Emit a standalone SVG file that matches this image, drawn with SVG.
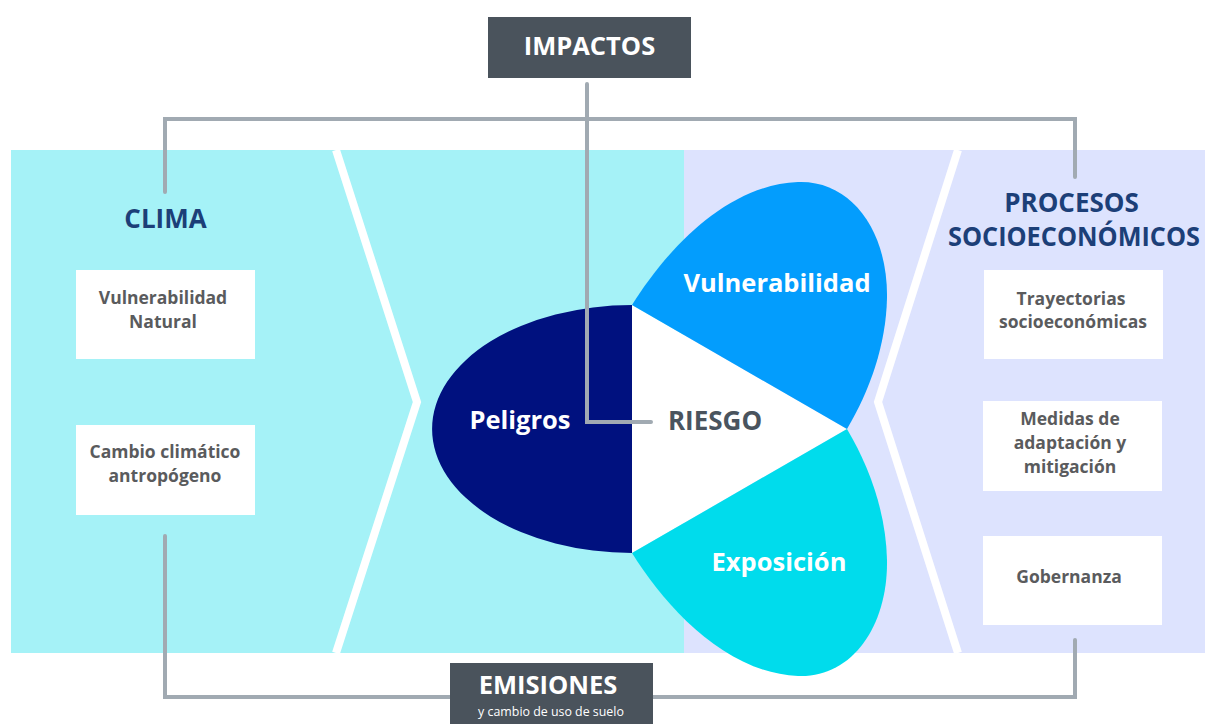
<svg xmlns="http://www.w3.org/2000/svg" width="1205" height="724" viewBox="0 0 1205 724">
<style>
.t{font-family:"Open Sans","Liberation Sans",sans-serif;font-weight:700;text-anchor:middle}
.box{fill:#ffffff}
.bt{font-size:17.5px;fill:#5a5b5d}
.title{font-size:26px;fill:#1c3f78}
.petal{font-size:25.5px;fill:#ffffff}
.dark{fill:#4a535c}
.conn{fill:none;stroke:#a1aab2;stroke-width:4;stroke-linecap:round;stroke-linejoin:miter}
.chev{fill:none;stroke:#ffffff;stroke-width:8}
</style>
<rect width="1205" height="724" fill="#ffffff"/>
<g id="background">
<rect x="11" y="150" width="673" height="503" fill="#a5f2f7"/>
<rect x="684" y="150" width="521" height="503" fill="#dde3fe"/>
<polyline class="chev" points="336,150 417,402 336,653"/>
<polyline class="chev" points="958,150 878,402 958,653"/>
</g>
<g id="connectors">
<polyline class="conn" points="165,192 165,119 1075,119 1075,177"/>
<polyline class="conn" points="165,536 165,697 1075,697 1075,640"/>
</g>
<g id="peligros">
<path d="M632,305 A200,124 0 0 0 632,553 Z" fill="#00117f"/>
<text class="t petal" x="520" y="429">Peligros</text>
</g>
<g id="riesgo">
<polygon points="632,305 632,553 847,429" fill="#ffffff"/>
<text class="t" x="715" y="430" font-size="26" fill="#4a545e">RIESGO</text>
</g>
<g id="vulnerabilidad">
<path d="M632,305 C665,252 725,185 798,182 C852,180 888,232 887,298 C886,345 870,390 847,429 Z" fill="#039dfd"/>
<text class="t petal" x="777" y="292">Vulnerabilidad</text>
</g>
<g id="exposicion">
<path d="M632,553 C665,606 725,673 798,676 C852,678 888,626 887,560 C886,513 870,468 847,429 Z" fill="#00dcec"/>
<text class="t petal" x="779" y="571">Exposición</text>
</g>
<g id="impactos-link">
<polyline class="conn" points="587,84 587,422 651,422"/>
</g>
<g id="impactos">
<rect x="488" y="17" width="203" height="61" fill="#4a535c"/>
<text class="t" x="589.5" y="55" font-size="25.5" fill="#ffffff">IMPACTOS</text>
</g>
<g id="emisiones">
<rect x="450" y="663" width="203" height="61" fill="#4a535c"/>
<text class="t" x="548" y="694" font-size="25.5" fill="#ffffff">EMISIONES</text>
<text x="551" y="716" font-size="12.4" fill="#ffffff" font-family="Open Sans, Liberation Sans, sans-serif" text-anchor="middle">y cambio de uso de suelo</text>
</g>
<g id="clima">
<text class="t title" x="165.5" y="228">CLIMA</text>
</g>
<g id="vulnerabilidad-natural">
<rect class="box" x="76" y="270" width="179" height="89"/>
<text class="t bt" x="163" y="304">Vulnerabilidad</text>
<text class="t bt" x="163" y="328">Natural</text>
</g>
<g id="cambio-climatico">
<rect class="box" x="76" y="425" width="179" height="90"/>
<text class="t bt" x="165" y="458">Cambio climático</text>
<text class="t bt" x="165" y="482">antropógeno</text>
</g>
<g id="procesos">
<text class="t title" x="1071.5" y="212">PROCESOS</text>
<text class="t title" x="1074" y="246" textLength="252" lengthAdjust="spacingAndGlyphs">SOCIOECONÓMICOS</text>
</g>
<g id="trayectorias">
<rect class="box" x="984" y="270" width="179" height="89"/>
<text class="t bt" x="1071" y="305">Trayectorias</text>
<text class="t bt" x="1073" y="328">socioeconómicas</text>
</g>
<g id="medidas">
<rect class="box" x="983" y="401" width="179" height="90"/>
<text class="t bt" x="1070" y="425">Medidas de</text>
<text class="t bt" x="1070" y="449">adaptación y</text>
<text class="t bt" x="1070" y="473">mitigación</text>
</g>
<g id="gobernanza">
<rect class="box" x="983" y="536" width="179" height="89"/>
<text class="t bt" x="1069" y="583">Gobernanza</text>
</g>
</svg>
